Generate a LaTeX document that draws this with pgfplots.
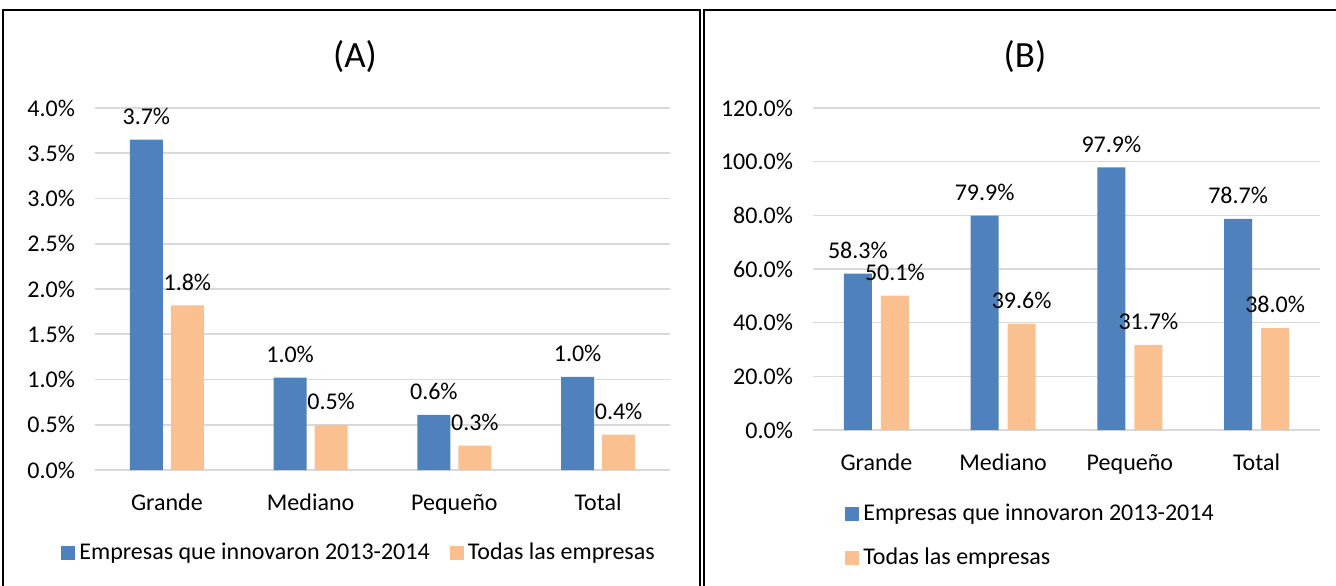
\documentclass[border=0pt]{standalone}
\usepackage{pgfplots}
\pgfplotsset{compat=1.18}
\usepackage{fontspec}
\setmainfont{Carlito}
\definecolor{cblue}{HTML}{4F81BD}
\definecolor{corange}{HTML}{FAC090}
\definecolor{cgrid}{HTML}{D9D9D9}
\pgfplotsset{
  mybars/.style={
    scale only axis,
    ybar,
    axis line style={draw=none},
    major tick length=0pt,
    ymajorgrids,
    grid style={cgrid, line width=0.8pt},
    xmin=-0.5, xmax=3.5, ymin=0,
    xtick={0,1,2,3},
    xticklabels={Grande,Mediano,Pequeño,Total},
    tick label style={font=\fontsize{12}{14}\selectfont},
    /pgf/number format/assume math mode=true,
    xticklabel style={yshift=-8.5pt},
    yticklabel style={xshift=-6.5pt},
    point meta=explicit symbolic,
    nodes near coords,
    nodes near coords style={font=\fontsize{12}{14}\selectfont, text=black, yshift=4pt},
    every axis plot post/.append style={legend image code/.code={\fill[##1, draw=none] (0pt,-3.5pt) rectangle (7pt,3.5pt);}},
    legend style={draw=none, font=\fontsize{12}{14}\selectfont, inner sep=0pt},
    legend cell align=left,
  }
}
\begin{document}
\begin{tikzpicture}
\begin{scope}[x=0.5pt,y=-0.5pt]
\path[use as bounding box] (0,0) rectangle (1336,585);
\draw[line width=0.8pt] (3,10) rectangle (700,600);
\draw[line width=0.8pt] (704,10) rectangle (1345,600);
\node[font=\fontsize{18.5}{22}\selectfont] at (355,57) {(A)};
\node[font=\fontsize{18.5}{22}\selectfont] at (1025,57) {(B)};
\coordinate (PA) at (95,470);
\coordinate (PB) at (813,430);
\end{scope}

\begin{axis}[mybars,
  at={(PA)}, anchor=south west,
  width=287.5pt, height=181pt,
  ymax=4,
  ytick={0,0.5,1,1.5,2,2.5,3,3.5,4},
  yticklabel={\pgfmathprintnumber[fixed,fixed zerofill,precision=1]{\tick}\%},
  bar width=16.5pt, ybar=4pt,
  legend columns=2,
  legend style={at={(axis description cs:0.461,-0.229)}, anchor=center,
    /tikz/every even column/.append style={column sep=8pt}},
]
\addplot[fill=cblue, draw=none] coordinates {(0,3.65) [3.7\%] (1,1.02) [1.0\%] (2,0.61) [0.6\%] (3,1.03) [1.0\%]};
\addplot[fill=corange, draw=none] coordinates {(0,1.82) [1.8\%] (1,0.50) [0.5\%] (2,0.27) [0.3\%] (3,0.39) [0.4\%]};
\legend{Empresas que innovaron 2013-2014, Todas las empresas}
\end{axis}

\begin{axis}[mybars,
  at={(PB)}, anchor=south west,
  width=253.5pt, height=161pt,
  ymax=120,
  ytick={0,20,40,60,80,100,120},
  yticklabel={\pgfmathprintnumber[fixed,fixed zerofill,precision=1]{\tick}\%},
  bar width=14pt, ybar=4.5pt,
  legend columns=1,
  legend style={at={(axis description cs:0.063,-0.217)}, anchor=north west, row sep=8pt},
]
\addplot[fill=cblue, draw=none] coordinates {(0,58.3) [58.3\%] (1,79.9) [79.9\%] (2,97.9) [97.9\%] (3,78.7) [78.7\%]};
\addplot[fill=corange, draw=none] coordinates {(0,50.1) [50.1\%] (1,39.6) [39.6\%] (2,31.7) [31.7\%] (3,38.0) [38.0\%]};
\legend{Empresas que innovaron 2013-2014, Todas las empresas}
\end{axis}
\end{tikzpicture}
\end{document}
